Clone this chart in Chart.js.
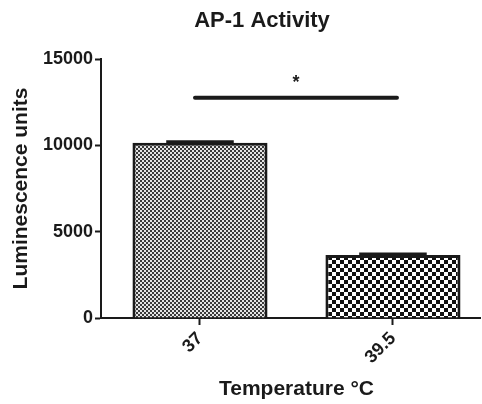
<!DOCTYPE html>
<html>
<head>
<meta charset="utf-8">
<script src="https://cdn.jsdelivr.net/npm/chart.js@4/dist/chart.umd.min.js"></script>
<style>
  html, body { margin: 0; padding: 0; background: #ffffff; }
  #wrap { width: 482px; height: 404px; }
</style>
</head>
<body>
<div id="wrap"><canvas id="c" width="482" height="404"></canvas></div>
<script>
// ---- data ----
const categories = ['37', '39.5'];
const values = [10150, 3650];
const errors = [60, 60];
const yTicks = [0, 5000, 10000, 15000];
const chartTitle = 'AP-1 Activity';
const xTitle = 'Temperature \u00B0C';
const yTitle = 'Luminescence units';
const sigFrom = 0;
const sigTo = 1;
const sigValue = 12750;
const sigLabel = '*';

const FONT = '"Liberation Sans", Arial, Helvetica, sans-serif';
const INK = '#1a1a1a';

function makePattern(cell, dark, light) {
  const c = document.createElement('canvas');
  c.width = cell * 2; c.height = cell * 2;
  const g = c.getContext('2d');
  g.fillStyle = light; g.fillRect(0, 0, cell * 2, cell * 2);
  g.fillStyle = dark;
  g.fillRect(0, 0, cell, cell);
  g.fillRect(cell, cell, cell, cell);
  return g.createPattern(c, 'repeat');
}
const fills = [makePattern(2, '#3a3a3a', '#e4e4e4'), makePattern(4, '#111111', '#ffffff')];

const points = categories.map((c, i) => ({ x: i, y: values[i] }));

const overlay = {
  id: 'overlay',
  afterDatasetsDraw(chart) {
    const ctx = chart.ctx;
    const xs = chart.scales.x, ys = chart.scales.y;
    const meta = chart.getDatasetMeta(0);
    ctx.save();
    // error bars
    ctx.strokeStyle = INK;
    meta.data.forEach((bar, i) => {
      const x = bar.x;
      const w = bar.width;
      const yTop = ys.getPixelForValue(values[i] + errors[i]);
      const yVal = ys.getPixelForValue(values[i]);
      ctx.lineWidth = 2;
      ctx.beginPath(); ctx.moveTo(x, yVal); ctx.lineTo(x, yTop); ctx.stroke();
      ctx.lineWidth = 3;
      ctx.beginPath(); ctx.moveTo(x - w / 4, yTop); ctx.lineTo(x + w / 4, yTop); ctx.stroke();
    });
    // significance line
    const x1 = xs.getPixelForValue(sigFrom) - 5;
    const x2 = xs.getPixelForValue(sigTo) + 4;
    const ySig = ys.getPixelForValue(sigValue);
    ctx.lineWidth = 4;
    ctx.lineCap = 'round';
    ctx.beginPath(); ctx.moveTo(x1, ySig); ctx.lineTo(x2, ySig); ctx.stroke();
    ctx.fillStyle = INK;
    ctx.font = 'bold 18px ' + FONT;
    ctx.textAlign = 'center';
    ctx.textBaseline = 'middle';
    ctx.fillText(sigLabel, (x1 + x2) / 2, ySig - 15);
    // main title
    ctx.font = 'bold 22px ' + FONT;
    ctx.textBaseline = 'middle';
    ctx.fillText(chartTitle, chart.width / 2 + 21, 21);
    // x axis title centred between the category ticks
    ctx.font = 'bold 21px ' + FONT;
    const xc = (xs.getPixelForValue(0) + xs.getPixelForValue(categories.length - 1)) / 2;
    ctx.fillText(xTitle, xc, 389);
    ctx.restore();
  }
};

new Chart(document.getElementById('c'), {
  type: 'bar',
  data: {
    datasets: [{
      data: points,
      backgroundColor: fills,
      borderColor: INK,
      borderWidth: 3,
      barPercentage: 0.7,
      categoryPercentage: 1.0
    }]
  },
  options: {
    responsive: false,
    animation: false,
    devicePixelRatio: 1,
    layout: { padding: { top: 59, right: 2, left: 0, bottom: 0 } },
    plugins: { legend: { display: false }, tooltip: { enabled: false }, title: { display: false } },
    scales: {
      x: {
        type: 'linear',
        offset: false,
        min: -0.513,
        max: 1.451,
        afterBuildTicks(scale) { scale.ticks = categories.map((c, i) => ({ value: i })); },
        afterFit(scale) { scale.height = 86; },
        ticks: {
          autoSkip: false,
          minRotation: 45,
          maxRotation: 45,
          padding: 3,
          color: INK,
          font: { family: FONT, size: 18, weight: 'bold' },
          callback: (v) => categories[v] !== undefined ? categories[v] : ''
        },
        grid: { display: true, offset: false, drawOnChartArea: false, drawTicks: true, tickLength: 7, tickColor: INK, tickWidth: 2 },
        border: { display: true, color: INK, width: 2 }
      },
      y: {
        min: 0,
        max: 15000,
        afterBuildTicks(scale) { scale.ticks = yTicks.map(v => ({ value: v })); },
        afterFit(scale) { scale.width = 101; },
        ticks: {
          padding: 2,
          color: INK,
          font: { family: FONT, size: 18, weight: 'bold' },
          callback: (v) => String(v)
        },
        grid: { display: true, drawOnChartArea: false, drawTicks: true, tickLength: 6, tickColor: INK, tickWidth: 2 },
        border: { display: true, color: INK, width: 2 },
        title: {
          display: true,
          text: yTitle,
          color: INK,
          font: { family: FONT, size: 21, weight: 'bold' },
          padding: { top: 9, bottom: 0 }
        }
      }
    }
  },
  plugins: [overlay]
});
</script>
</body>
</html>
